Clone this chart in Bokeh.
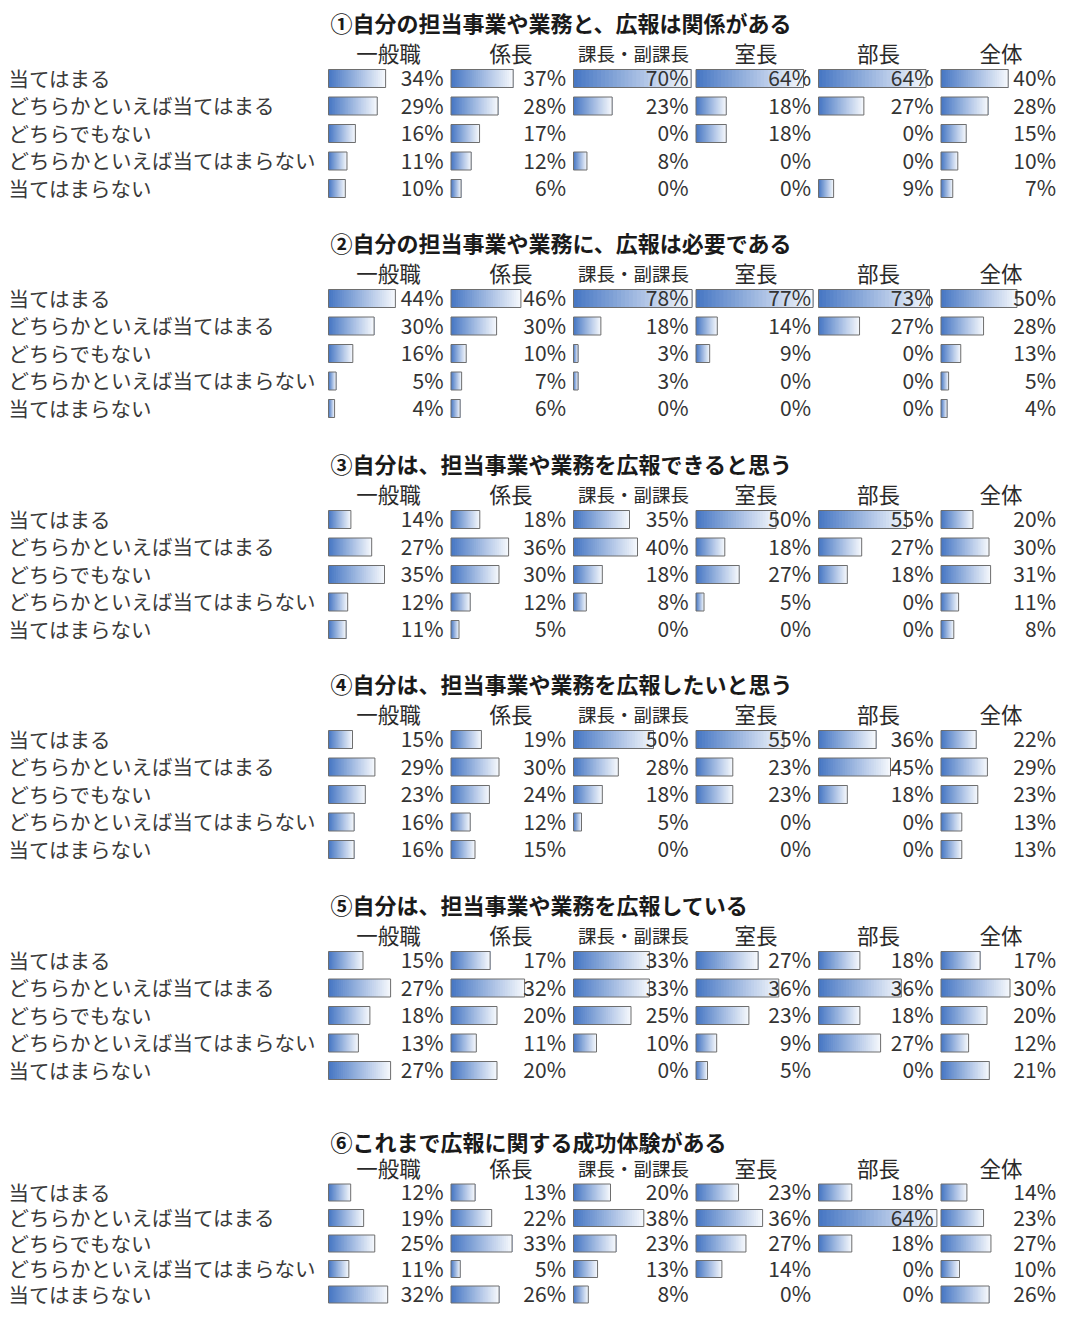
from bokeh.plotting import figure
from bokeh.models import Range1d, ColumnDataSource
from bokeh.core.properties import value
from bokeh.embed import file_html
from bokeh.resources import INLINE

# ---------------- data ----------------
titles = [
    "①自分の担当事業や業務と、広報は関係がある",
    "②自分の担当事業や業務に、広報は必要である",
    "③自分は、担当事業や業務を広報できると思う",
    "④自分は、担当事業や業務を広報したいと思う",
    "⑤自分は、担当事業や業務を広報している",
    "⑥これまで広報に関する成功体験がある",
]
groups = ["一般職", "係長", "課長・副課長", "室長", "部長", "全体"]
answers = ["当てはまる", "どちらかといえば当てはまる", "どちらでもない",
           "どちらかといえば当てはまらない", "当てはまらない"]

# values[group][answer] in percent
q1 = [[34, 29, 16, 11, 10], [37, 28, 17, 12, 6], [70, 23, 0, 8, 0],
      [64, 18, 18, 0, 0], [64, 27, 0, 0, 9], [40, 28, 15, 10, 7]]
q2 = [[44, 30, 16, 5, 4], [46, 30, 10, 7, 6], [78, 18, 3, 3, 0],
      [77, 14, 9, 0, 0], [73, 27, 0, 0, 0], [50, 28, 13, 5, 4]]
q3 = [[14, 27, 35, 12, 11], [18, 36, 30, 12, 5], [35, 40, 18, 8, 0],
      [50, 18, 27, 5, 0], [55, 27, 18, 0, 0], [20, 30, 31, 11, 8]]
q4 = [[15, 29, 23, 16, 16], [19, 30, 24, 12, 15], [50, 28, 18, 5, 0],
      [55, 23, 23, 0, 0], [36, 45, 18, 0, 0], [22, 29, 23, 13, 13]]
q5 = [[15, 27, 18, 13, 27], [17, 32, 20, 11, 20], [33, 33, 25, 10, 0],
      [27, 36, 23, 9, 5], [18, 36, 18, 27, 0], [17, 30, 20, 12, 21]]
q6 = [[12, 19, 25, 11, 32], [13, 22, 33, 5, 26], [20, 38, 23, 13, 8],
      [23, 36, 27, 14, 0], [18, 64, 18, 0, 0], [14, 23, 27, 10, 26]]
questions = [q1, q2, q3, q4, q5, q6]

# ---------------- layout / style ----------------
FIG_W, FIG_H = 1061, 1309
BAR_X0 = 328                         # x where first column's bars start
COL_STEP = 122.5
LABEL_DX = 115
HEADER_DX = 60
LABEL_X = 8
ROW1_Y = [78, 298, 519, 739, 960, 1192]
ROW_STEP = [27.5, 27.5, 27.5, 27.5, 27.5, 25.5]
TITLE_DY = [57, 57, 57, 57, 57, 52]
HEADER_DY = [26, 26, 26, 26, 26, 25]
JP_DY = -1                           # optical centring of CJK text on rows
NUM_DY = -1.5
PX_PER_PCT = [1.68, 1.52, 1.6, 1.6, 2.3, 1.85]   # each chart had its own axis scale
BAR_H = [18, 18, 18, 18, 18, 17]
NSEG = 30
C_DARK = (72, 120, 196)
C_LIGHT = (244, 247, 252)

JP = value("Noto Sans CJK JP")
NUM = value("Noto Sans CJK JP")

p = figure(width=FIG_W, height=FIG_H,
           x_range=Range1d(0, FIG_W), y_range=Range1d(FIG_H, 0),
           x_axis_type=None, y_axis_type=None,
           output_backend="svg", toolbar_location=None, min_border=0)
p.grid.visible = False
p.outline_line_color = None
p.background_fill_color = "white"
p.border_fill_color = "white"


def mix(t):
    r = [int(round(a + (b - a) * t)) for a, b in zip(C_DARK, C_LIGHT)]
    return "#%02x%02x%02x" % tuple(r)


seg_colors = [mix(k / (NSEG - 1)) for k in range(NSEG)]

for s, q in enumerate(questions):
    k = PX_PER_PCT[s]
    bh = BAR_H[s]
    ys = [ROW1_Y[s] + r * ROW_STEP[s] for r in range(len(answers))]

    # title
    p.text(x=[BAR_X0 + 2], y=[ROW1_Y[s] - TITLE_DY[s]], text=[titles[s]],
           text_font=JP, text_font_size="22px", text_font_style="bold",
           text_color="#1a1a1a", text_baseline="middle", text_align="left")

    # row labels
    p.text(x=[LABEL_X] * len(answers), y=[y + JP_DY for y in ys], text=answers,
           text_font=JP, text_font_size="20.5px", text_color="#3a3a3a",
           text_baseline="middle", text_align="left")

    for j, g in enumerate(groups):
        x0 = BAR_X0 + j * COL_STEP
        name = f"s{s}c{j}"
        p.extra_x_ranges[name] = Range1d(-x0 / k, (FIG_W - x0) / k)

        vals = q[j]
        # gradient: overlapping layers, each starting further right and lighter
        L, R, T, B, C = [], [], [], [], []
        for n in range(NSEG):
            for r, v in enumerate(vals):
                if v <= 0:
                    continue
                L.append(v * n / NSEG)
                R.append(v)
                T.append(ys[r] - bh / 2)
                B.append(ys[r] + bh / 2)
                C.append(seg_colors[n])
        p.quad(left="l", right="r", top="t", bottom="b", fill_color="c", line_color=None,
               source=ColumnDataSource(dict(l=L, r=R, t=T, b=B, c=C)), x_range_name=name)
        # outline
        nz = [r for r, v in enumerate(vals) if v > 0]
        p.quad(left=[0] * len(nz), right=[vals[r] for r in nz],
               top=[ys[r] - bh / 2 for r in nz], bottom=[ys[r] + bh / 2 for r in nz],
               fill_color=None, line_color="#6e6e6e", line_width=1, x_range_name=name)

        # header
        p.text(x=[x0 + HEADER_DX], y=[ROW1_Y[s] - HEADER_DY[s]], text=[g],
               text_font=JP, text_font_size="18.5px" if len(g) > 3 else "21.5px",
               text_color="#2a2a2a", text_baseline="middle", text_align="center")

        # percent labels
        p.text(x=[x0 + LABEL_DX] * len(vals), y=[y + NUM_DY for y in ys],
               text=[f"{v}%" for v in vals],
               text_font=NUM, text_font_size="21px", text_color="#333333",
               text_baseline="middle", text_align="right")

open("out.html", "w").write(file_html(p, INLINE))
